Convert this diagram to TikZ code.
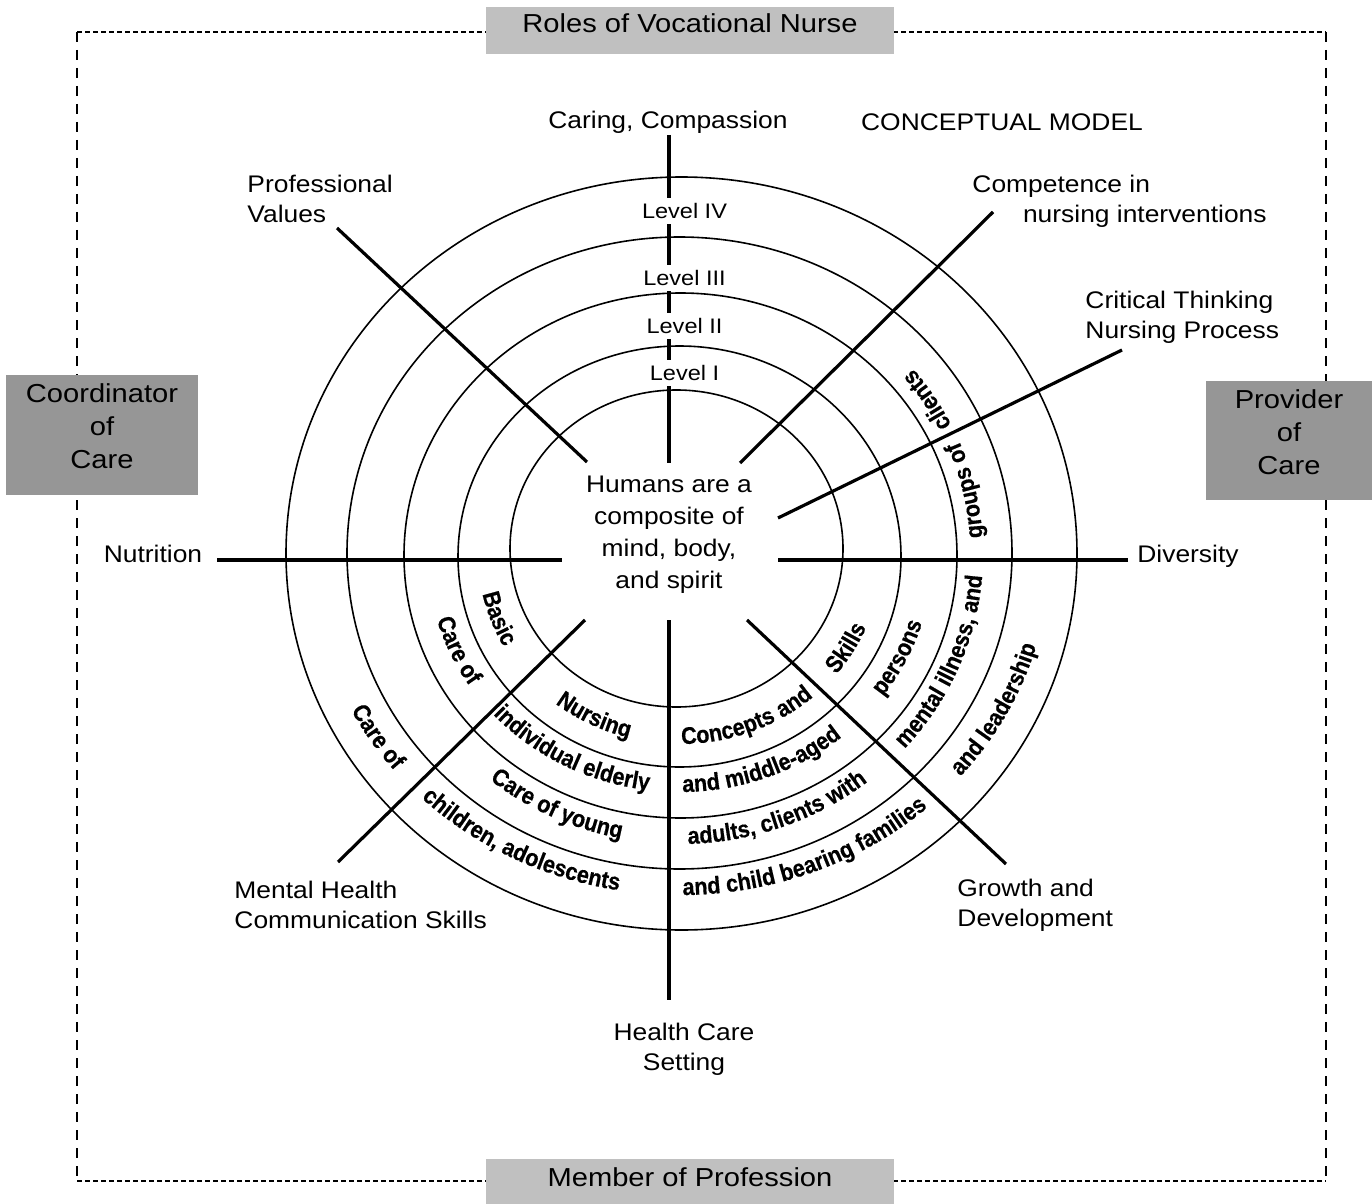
\documentclass[tikz,border=0pt]{standalone}
\usepackage{fontspec}
\setmainfont{Liberation Sans}
\newfontfamily\ringfont{Liberation Sans}[FakeStretch=0.9,FakeBold=0.5]
\usetikzlibrary{decorations.text,calc}
\definecolor{boxlight}{HTML}{C0C0C0}
\definecolor{boxdark}{HTML}{969696}
\newcommand\ringtext[4]{%
  \pgfmathsetmacro\rtA{#1-45}%
  \pgfmathsetmacro\rtB{#1+45}%
  \path[decorate,decoration={text along path,text align=center,
    text={|\ringfont\bfseries\fontsize{12}{14}\selectfont|#4}}]
    ($(C)+(\rtA:#2 and #3)$) arc[start angle=\rtA,end angle=\rtB,x radius=#2,y radius=#3];%
}
\begin{document}
\begin{tikzpicture}[x=0.5pt,y=0.5pt,
  spoke/.style={line width=1.6pt},
  ringline/.style={line width=0.8pt},
  lbl/.style={font=\fontsize{12}{15}\selectfont, xscale=1.1, inner sep=0pt},
  lvl/.style={font=\fontsize{10.5}{12}\selectfont, xscale=1.12, fill=white, inner sep=2.5pt},
  boxlbl/.style={font=\fontsize{13}{16.5}\selectfont, xscale=1.12, inner sep=0pt, align=center},
  hdash/.style={line width=0.75pt, dash pattern=on 2.5pt off 1.5pt},
  vdash/.style={line width=0.75pt, dash pattern=on 5pt off 4pt}
]
\useasboundingbox (0,0) rectangle (1372,-1204);
% dashed frame
\draw[hdash] (77,-32) -- (1326,-32);
\draw[hdash] (77,-1181) -- (1326,-1181);
\draw[vdash] (77,-32) -- (77,-1181);
\draw[vdash] (1326,-32) -- (1326,-1181);
% role boxes
\node[fill=boxlight, minimum width=204pt, minimum height=23.5pt, inner sep=0pt] (rolesbox) at (690,-30.5) {};
\node[boxlbl] (roles) at (690,-23.5) {Roles of Vocational Nurse};
\node[fill=boxlight, minimum width=204pt, minimum height=22.5pt, inner sep=0pt] (memberbox) at (690,-1181.5) {};
\node[boxlbl] (member) at (690,-1177) {Member of Profession};
\node[fill=boxdark, minimum width=96pt, minimum height=60pt, inner sep=0pt] (coordbox) at (102,-435) {};
\node[boxlbl] (coord) at (102,-426) {Coordinator\\of\\Care};
\node[fill=boxdark, minimum width=83pt, minimum height=59.5pt, inner sep=0pt] (provbox) at (1289,-440.5) {};
\node[boxlbl] (prov) at (1289,-432) {Provider\\of\\Care};
% rings
\draw[ringline] (676.5,-548.5) ellipse [x radius=166.5, y radius=158.5];
\draw[ringline] (679.5,-556.5) ellipse [x radius=221.5, y radius=210.5];
\draw[ringline] (680.5,-555.5) ellipse [x radius=276.5, y radius=262.5];
\draw[ringline] (679.5,-553) ellipse [x radius=332.5, y radius=316];
\draw[ringline] (681.5,-553.5) ellipse [x radius=395.5, y radius=376.5];
\coordinate (C) at (680,-554);
% spoke end points
\coordinate (topA) at (669,-135);  \coordinate (topB) at (669,-463);
\coordinate (botA) at (669,-620);  \coordinate (botB) at (669,-1000);
\coordinate (pvA) at (337,-228);   \coordinate (pvB) at (587,-462);
\coordinate (coA) at (993,-212);   \coordinate (coB) at (740,-463);
\coordinate (ctA) at (1122,-350);  \coordinate (ctB) at (778,-518);
\coordinate (nuA) at (217,-560);   \coordinate (nuB) at (562,-560);
\coordinate (diA) at (1128,-560);  \coordinate (diB) at (778,-560);
\coordinate (mhA) at (338,-862);   \coordinate (mhB) at (585,-620);
\coordinate (grA) at (1006,-864);  \coordinate (grB) at (747,-620);
\draw[spoke] (topA) -- (topB);
\draw[spoke] (botA) -- (botB);
\draw[spoke] (pvA) -- (pvB);
\draw[spoke] (coA) -- (coB);
\draw[spoke] (ctA) -- (ctB);
\draw[spoke] (nuA) -- (nuB);
\draw[spoke] (diA) -- (diB);
\draw[spoke] (mhA) -- (mhB);
\draw[spoke] (grA) -- (grB);
% level labels
\node[lvl] (l4) at (684.5,-211) {Level IV};
\node[lvl] (l3) at (684.5,-278) {Level III};
\node[lvl] (l2) at (684.5,-326) {Level II};
\node[lvl] (l1) at (684.5,-373) {Level I};
% ring texts
\ringtext{200.2}{202}{190}{Basic}
\ringtext{243}{202}{190}{Nursing}
\ringtext{291.3}{202}{190}{Concepts and}
\ringtext{329.7}{202}{190}{Skills}
\ringtext{204.2}{253}{238}{Care of}
\ringtext{242.1}{253}{238}{individual elderly}
\ringtext{290.6}{253}{238}{and middle-aged}
\ringtext{333.9}{253}{238}{persons}
\ringtext{244.5}{303}{290}{Care of young}
\ringtext{290.2}{303}{290}{adults, clients with}
\ringtext{337.1}{303}{290}{mental illness, and}
\ringtext{12.8}{303}{290}{groups of}
\ringtext{32.5}{303}{290}{clients}
\ringtext{212.3}{370}{341}{Care of}
\ringtext{242.3}{370}{341}{children, adolescents}
\ringtext{291.8}{370}{341}{and child bearing families}
\ringtext{332.7}{370}{341}{and leadership}
% labels
\node[lbl] (caring) at (668,-122) {Caring, Compassion};
\node[lbl] (concept) at (1002,-122) {CONCEPTUAL MODEL};
\node[lbl, align=left, anchor=west] (profval) at (247,-199) {Professional\\Values};
\node[lbl, align=left, anchor=west] (compet) at (972,-201.5) {Competence in\\\hspace*{23pt}nursing interventions};
\node[lbl, align=left, anchor=west] (critical) at (1085,-317.5) {Critical Thinking\\Nursing Process};
\node[lbl] (nutr) at (153,-554) {Nutrition};
\node[lbl] (divers) at (1188,-556) {Diversity};
\node[lbl, align=left, anchor=west] (mental) at (234,-905) {Mental Health\\Communication Skills};
\node[lbl, align=left, anchor=west] (growth) at (957,-905) {Growth and\\Development};
\node[lbl, align=center] (setting) at (684,-1049) {Health Care\\Setting};
\node[lbl, align=center, font=\fontsize{12}{16}\selectfont] (humans) at (669,-535) {Humans are a\\composite of\\mind, body,\\and spirit};
\end{tikzpicture}
\end{document}
